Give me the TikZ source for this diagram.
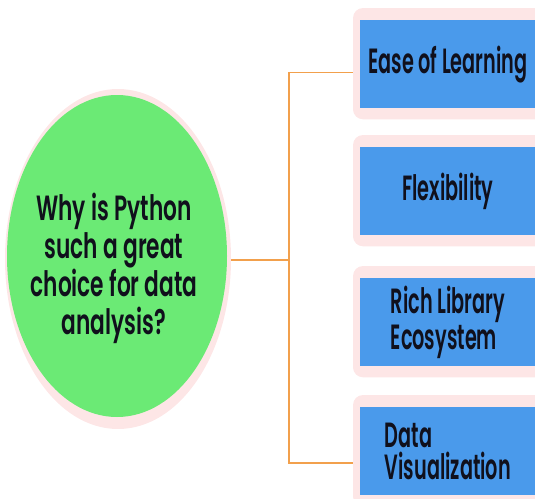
\documentclass[tikz,border=0pt]{standalone}
\usepackage{fontspec}
\setmainfont{Poppins SemiBold}[FakeStretch=0.55]
\newfontfamily\widefont{Poppins SemiBold}[FakeStretch=0.62]
\usetikzlibrary{shapes.geometric,backgrounds}
\definecolor{leaf}{HTML}{6BEA75}
\definecolor{sky}{HTML}{4A9AEB}
\definecolor{blush}{HTML}{FDE6E6}
\definecolor{amber}{HTML}{F2A04C}
\definecolor{ink}{HTML}{10101C}

\begin{document}
\begin{tikzpicture}[x=0.5pt,y=-0.5pt,font=\fontsize{17.5}{16}\selectfont,text=ink,
    reason/.style={fill=sky,minimum width=87.5pt,minimum height=43.75pt,inner sep=0pt,anchor=north west,align=left},
    link/.style={amber,line width=0.8pt}]
  \clip (0,0) rectangle (535,498);
  \node[ellipse,fill=leaf,minimum width=110pt,minimum height=161pt,inner sep=0pt] (why) at (117,256) {};
  \node[align=center,font=\widefont\fontsize{17.5}{19}\selectfont] (question) at (114,268)
    {Why is Python\\such a great\\choice for data\\analysis?};
  \node[reason] (ease) at (360,20) {Ease of Learning};
  \node[reason] (flex) at (360,147) {Flexibility};
  \node[reason] (libs) at (360,278) {Rich Library\\Ecosystem};
  \node[reason] (dataviz) at (360,407) {Data\\Visualization};
  \coordinate (fork) at (289,260);
  \begin{scope}[on background layer]
    \draw[link] (why.east |- fork) -- (fork);
    \draw[link] ([yshift=-4.25pt]ease.west) -| (fork) |- ([yshift=-6pt]dataviz.west);
    \fill[blush] (118,259) ellipse (113 and 170);
    \foreach \b in {ease,flex,libs,dataviz}
      \fill[blush,rounded corners=5pt] ([shift={(-7,-12)}]\b.north west) rectangle ([shift={(10,11)}]\b.south east);
  \end{scope}
\end{tikzpicture}
\end{document}
